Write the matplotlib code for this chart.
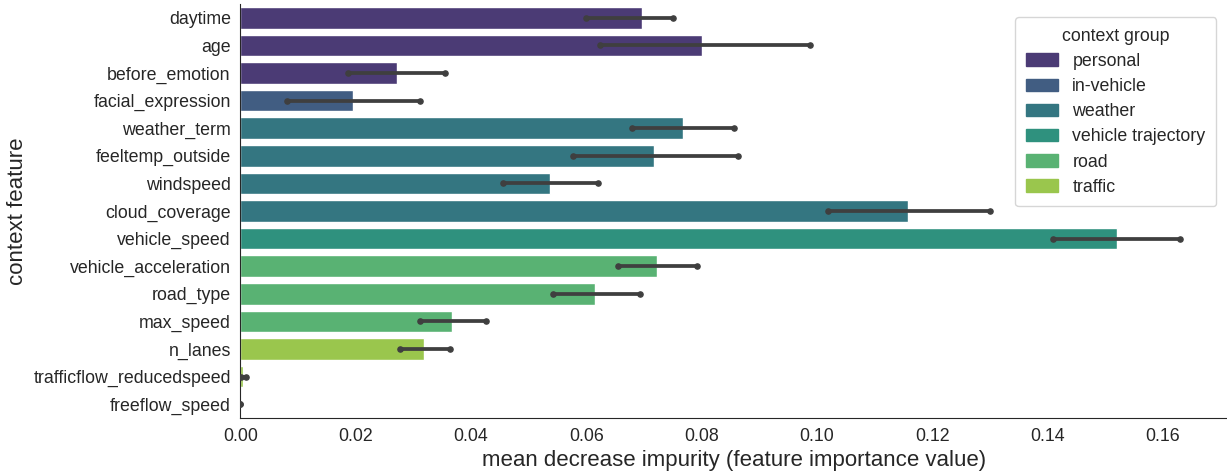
import numpy as np
import matplotlib
matplotlib.use("Agg")
import matplotlib.pyplot as plt
import seaborn as sns

# data
features = ["daytime", "age", "before_emotion", "facial_expression", "weather_term",
            "feeltemp_outside", "windspeed", "cloud_coverage", "vehicle_speed",
            "vehicle_acceleration", "road_type", "max_speed", "n_lanes",
            "trafficflow_reducedspeed", "freeflow_speed"]
groups = ["personal", "personal", "personal", "in-vehicle", "weather",
          "weather", "weather", "weather", "vehicle trajectory",
          "road", "road", "road", "traffic", "traffic", "traffic"]
group_order = ["personal", "in-vehicle", "weather", "vehicle trajectory", "road", "traffic"]
importance = [0.0697, 0.0801, 0.0272, 0.0196, 0.0768, 0.0717, 0.0537, 0.1158, 0.1520,
              0.0723, 0.0615, 0.0367, 0.0319, 0.0005, 0.0]
err_low = [0.0600, 0.0624, 0.0187, 0.0081, 0.0679, 0.0577, 0.0456, 0.1019, 0.1409,
           0.0655, 0.0542, 0.0312, 0.0277, 0.0001, 0.0]
err_high = [0.0750, 0.0988, 0.0355, 0.0312, 0.0856, 0.0863, 0.0620, 0.1300, 0.1629,
            0.0792, 0.0693, 0.0425, 0.0364, 0.0009, 0.0]

sns.set_style("white")
plt.rcParams["font.family"] = ["Liberation Sans", "DejaVu Sans"]

palette = [sns.desaturate(c, 0.75) for c in sns.color_palette("viridis", len(group_order))]
colors = {g: palette[i] for i, g in enumerate(group_order)}

fig, ax = plt.subplots(figsize=(12.27, 4.76), dpi=100)
y = np.arange(len(features))
ax.barh(y, importance, height=0.78, color=[colors[g] for g in groups])

# confidence intervals with rounded ends
ax.hlines(y, err_low, err_high, color="#3f3f3f", linewidth=2.7, capstyle="round", zorder=3)
ax.scatter(err_low + err_high, list(y) + list(y), s=14, color="#3f3f3f", zorder=3)

ax.set_yticks(y)
ax.set_yticklabels(features)
ax.set_ylim(len(features) - 0.5, -0.5)
ax.set_xlim(0, 0.1711)
ax.set_xticks(np.arange(0, 0.161, 0.02))
ax.tick_params(labelsize=12.8)
ax.set_xlabel("mean decrease impurity (feature importance value)", fontsize=16)
ax.set_ylabel("context feature", fontsize=16)

handles = [plt.Rectangle((0, 0), 1, 1, color=colors[g]) for g in group_order]
ax.legend(handles, group_order, title="context group", fontsize=12.8, title_fontsize=12.8,
          loc="upper right", bbox_to_anchor=(0.998, 0.99), borderpad=0.6,
          labelspacing=0.46, handlelength=1.8, handletextpad=0.8)
sns.despine()

plt.subplots_adjust(left=0.196, right=1.0, top=0.9916, bottom=0.122)
plt.savefig("out.png")
